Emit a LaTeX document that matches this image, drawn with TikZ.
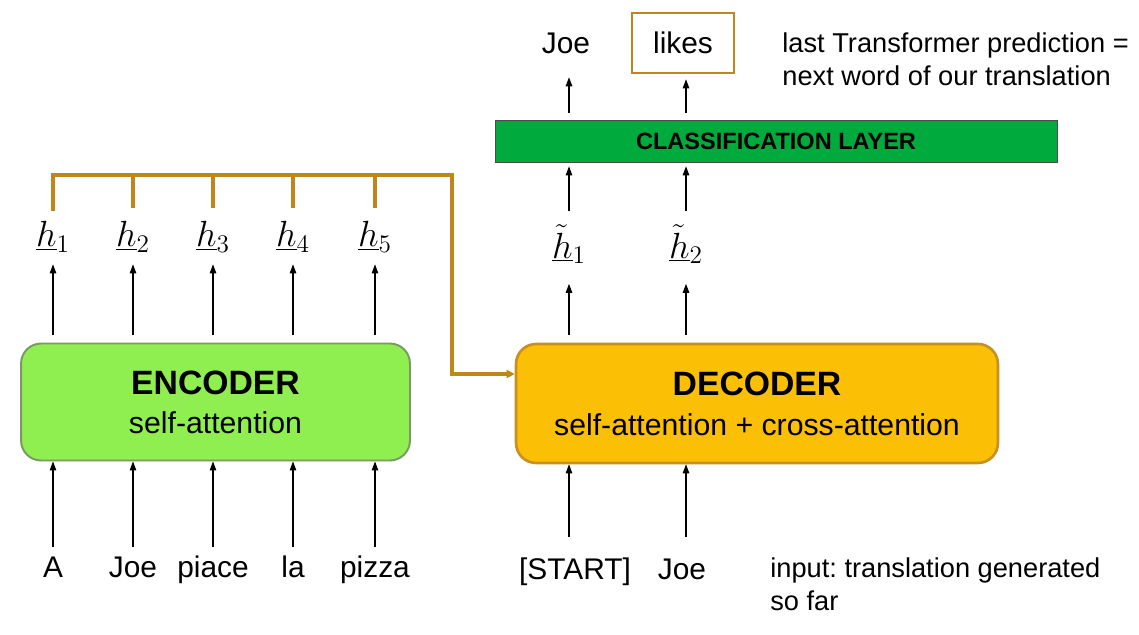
\documentclass[tikz,border=0pt]{standalone}
\usepackage{fontspec}
\setmainfont{Liberation Sans}
\usetikzlibrary{arrows.meta}
\definecolor{encfill}{HTML}{8FEE50}
\definecolor{encdraw}{HTML}{7A9A60}
\definecolor{decfill}{HTML}{FBBF06}
\definecolor{decdraw}{HTML}{C8901E}
\definecolor{clsfill}{HTML}{00AA3C}
\definecolor{busc}{HTML}{C0861C}
\frenchspacing
\begin{document}
\begin{tikzpicture}[x=0.02cm,y=-0.02cm,
    arr/.style={-{Triangle[length=0.18cm,width=0.13cm]},line width=0.6pt},
    bus/.style={draw=busc,line width=1.8pt},
    word/.style={font=\fontsize{17}{20}\selectfont,inner sep=0pt,text height=12.5pt,text depth=4.5pt},
    hvec/.style={font=\fontsize{19.5}{22}\selectfont,inner sep=0pt,minimum height=0.76cm},
    block/.style={rounded corners=0.4cm,minimum width=#1,minimum height=2.34cm},
    title/.style={font=\fontsize{19.2}{22}\selectfont\bfseries},
    sub/.style={font=\fontsize{17.2}{20}\selectfont},
    note/.style={font=\fontsize{15.5}{18.6}\selectfont,align=left,anchor=west,inner sep=0pt}]
  \useasboundingbox (0,0) rectangle (1139,635);
  \node[block=7.78cm,fill=encfill,draw=encdraw,line width=1.1pt] (enc) at (215.5,402) {};
  \node[title] (enct) at ([yshift=0.38cm]enc.center) {ENCODER};
  \node[sub] (encs) at ([yshift=-0.42cm]enc.center) {self-attention};
  \node[block=9.64cm,fill=decfill,draw=decdraw,line width=1.5pt,minimum height=2.38cm] (dec) at (757,403.5) {};
  \node[title] (dect) at ([yshift=0.39cm]dec.center) {DECODER};
  \node[sub] (decs) at ([yshift=-0.43cm]dec.center) {self-attention + cross-attention};
  \node[fill=clsfill,draw=black!70,minimum width=11.24cm,minimum height=0.84cm,
    font=\fontsize{13.4}{16}\selectfont\bfseries] (cls) at (776,141) {CLASSIFICATION LAYER};
  \foreach \x/\w [count=\i] in {53/A,133/Joe,213/piace,293/la,375/pizza} {
    \node[word] (in\i) at (\x,570) {\w};
    \node[hvec] (h\i) at (\x,237) {$\underline{h}_{\i}$};
    \draw[arr,shorten <=0.16cm] (in\i) -- (in\i |- enc.south);
    \draw[arr,shorten <=0.16cm,shorten >=0.16cm] (enc.north -| h\i) -- (h\i);
  }
  \coordinate (bend) at (452,175);
  \draw[bus,-{Triangle[length=0.16cm,width=0.16cm]}] (h1.north) ++(0,-7) |- (bend) |- ([yshift=0.59cm]dec.west);
  \foreach \i in {2,...,5} \draw[bus] (h\i.north) ++(0,-10) -- (h\i.north |- bend);
  \node[word] (din1) at (575,572) {[START]};
  \node[word] (din2) at (682,572) {Joe};
  \node[hvec] (ht1) at (569,244) {$\underline{\tilde{h}}_1$};
  \node[hvec] (ht2) at (686,244) {$\underline{\tilde{h}}_2$};
  \node[word] (out1) at (566,46) {Joe};
  \node[word,text depth=0pt,draw=busc,line width=1.5pt,minimum width=2.04cm,minimum height=1.2cm] (out2) at (683,43) {likes};
  \foreach \i in {1,2} {
    \draw[arr,shorten <=0.4cm] (din\i.north -| ht\i) -- (ht\i |- dec.south);
    \draw[arr,shorten <=0.16cm,shorten >=0.4cm] (dec.north -| ht\i) -- (ht\i);
    \draw[arr,shorten <=0.26cm,shorten >=0.08cm] (ht\i) -- (ht\i |- cls.south);
  }
  \draw[arr,shorten <=0.14cm,shorten >=0.32cm] (ht1 |- cls.north) -- (ht1 |- out1.south);
  \draw[arr,shorten <=0.14cm,shorten >=0.1cm] (ht2 |- cls.north) -- (ht2 |- out2.south);
  \node[note] (pred) at (782,59) {last Transformer prediction =\\next word of our translation};
  \node[note] (sofar) at (770,584) {input: translation generated\\so far};
\end{tikzpicture}
\end{document}
